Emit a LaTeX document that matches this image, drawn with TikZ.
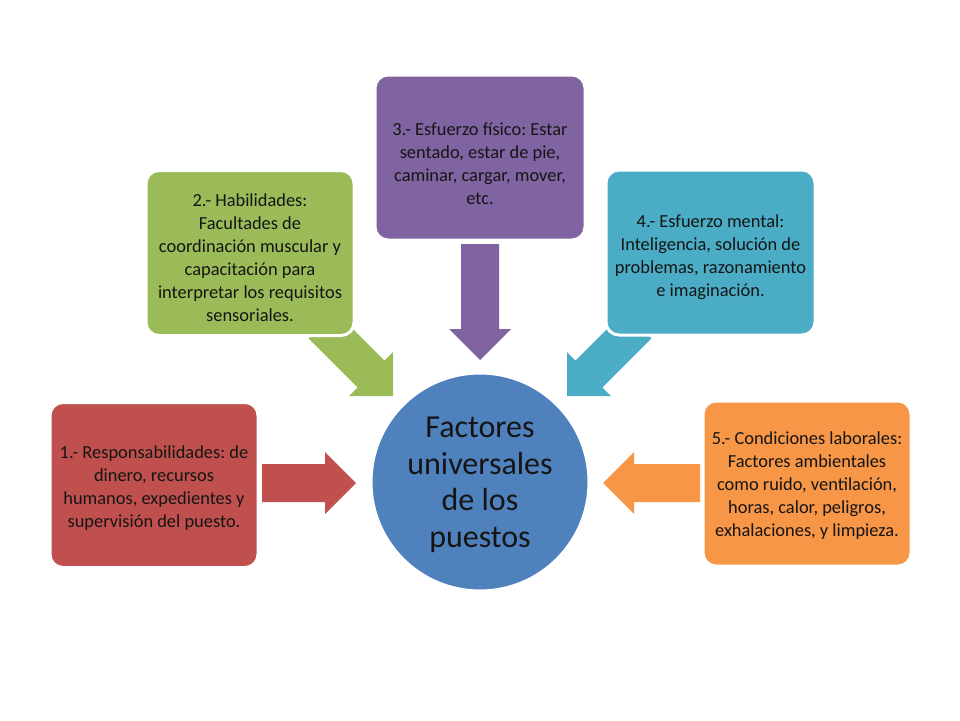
\documentclass[tikz,border=0pt]{standalone}
\usepackage{fontspec}
\setmainfont{Carlito}
\usetikzlibrary{calc}
\frenchspacing
\definecolor{cred}{HTML}{C0504D}
\definecolor{cgreen}{HTML}{9BBB59}
\definecolor{cpurple}{HTML}{8064A2}
\definecolor{cteal}{HTML}{4BACC6}
\definecolor{corange}{HTML}{F79646}
\definecolor{cblue}{HTML}{4F81BD}
\definecolor{ctext}{HTML}{151515}
\newcommand{\blockarrow}[3]{%
  \path coordinate (#1b) at ($(#2)!31pt!(#1)$);
  \fill[#3] ($(#1)!19pt!90:(#2)$) -- ($(#1b)!19pt!-90:(#1)$) -- ($(#1b)!31pt!-90:(#1)$)
    -- (#2) -- ($(#1b)!31pt!90:(#1)$) -- ($(#1b)!19pt!90:(#1)$) -- ($(#1)!19pt!-90:(#2)$) -- cycle;}
\begin{document}
\begin{tikzpicture}[x=1pt,y=-1pt,
  box/.style={rounded corners=13pt, draw=white, line width=3pt, minimum width=208pt,
    minimum height=165pt, inner sep=0pt},
  boxtext/.style={align=center, inner sep=0pt, text=ctext,
    font=\fontsize{18.4}{23}\selectfont\frenchspacing}]
\fill[white] (0,0) rectangle (960,720);
\useasboundingbox (0,0) rectangle (960,720);
% arrow coordinates
\coordinate (s1) at (262,483); \coordinate (t1) at (356,483);
\coordinate (s2) at (322,325); \coordinate (t2) at (393,396);
\coordinate (s3) at (480,244); \coordinate (t3) at (480,360);
\coordinate (s4) at (638,325); \coordinate (t4) at (567,396);
\coordinate (s5) at (700,483); \coordinate (t5) at (603,483);
\blockarrow{s1}{t1}{cred}
\blockarrow{s2}{t2}{cgreen}
\blockarrow{s3}{t3}{cpurple}
\blockarrow{s4}{t4}{cteal}
\blockarrow{s5}{t5}{corange}
% boxes
\node[box, fill=cred] (b1) at (154,485) {};
\node[boxtext] (b1t) at ($(b1.center)+(0,3)$)
  {1.- Responsabilidades: de\\dinero, recursos\\humanos, expedientes y\\supervisión del puesto.};
\node[box, fill=cgreen] (b2) at (250,253) {};
\node[boxtext] (b2t) at ($(b2.center)+(0,5)$)
  {2.- Habilidades:\\Facultades de\\coordinación muscular y\\capacitación para\\interpretar los requisitos\\sensoriales.};
\node[box, fill=cpurple, minimum width=210pt] (b3) at (480,157.5) {};
\node[boxtext] (b3t) at ($(b3.center)+(0,6)$)
  {3.- Esfuerzo físico: Estar\\sentado, estar de pie,\\caminar, cargar, mover,\\etc.};
\node[box, fill=cteal, minimum width=209pt] (b4) at (710.5,252.5) {};
\node[boxtext] (b4t) at ($(b4.center)+(0,5)$)
  {4.- Esfuerzo mental:\\Inteligencia, solución de\\problemas, razonamiento\\e imaginación.};
\node[box, fill=corange] (b5) at (807,483.5) {};
\node[boxtext] (b5t) at ($(b5.center)+(0,2)$)
  {5.- Condiciones laborales:\\Factores ambientales\\como ruido, ventilación,\\horas, calor, peligros,\\exhalaciones, y limpieza.};
% circle
\node[circle, fill=cblue, draw=white, line width=3pt, minimum size=218pt, inner sep=0pt] (c) at (480,482) {};
\node[align=center, inner sep=0pt, text=ctext, font=\fontsize{32}{36.5}\selectfont] (ct)
  at ($(c.center)+(0,3)$) {Factores\\universales\\de los\\puestos};
\end{tikzpicture}
\end{document}
